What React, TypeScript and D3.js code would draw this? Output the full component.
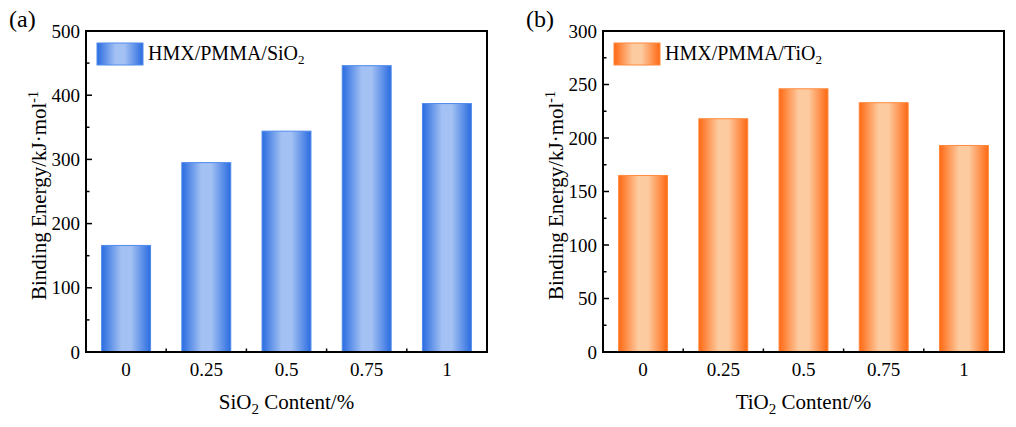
import React from "react";
import * as d3 from "d3";

const categories = ["0", "0.25", "0.5", "0.75", "1"];
const sio2Values = [166, 295, 344, 446, 387];
const tio2Values = [165, 218, 246, 233, 193];
const sio2Ticks = [0, 100, 200, 300, 400, 500];
const tio2Ticks = [0, 50, 100, 150, 200, 250, 300];

const FONT = "'Liberation Serif', 'Times New Roman', serif";

type PanelProps = {
  id: string;
  tag: string;
  left: number;
  values: number[];
  ticks: number[];
  yMax: number;
  oxide: string; // "Si" or "Ti"
  edge: string;
  light: string;
  stroke: string;
};

function Panel({ id, tag, left, values, ticks, yMax, oxide, edge, light, stroke }: PanelProps) {
  const top = 31;
  const bottom = 352;
  const width = 401;
  const right = left + width;

  const x = d3
    .scaleBand<string>()
    .domain(categories)
    .range([left, right])
    .paddingInner(0.39)
    .paddingOuter(0.195);
  const y = d3.scaleLinear().domain([0, yMax]).range([bottom, top]);

  const step = ticks[1] - ticks[0];
  const minor = d3.range(step / 2, yMax, step);
  const boundaries = categories.slice(1).map((c) => (x(c) as number) - (x.step() - x.bandwidth()) / 2);

  const gradId = `grad-${id}`;
  const midY = (top + bottom) / 2 + 4;

  return (
    <g>
      <defs>
        <linearGradient id={gradId} x1="0" x2="1" y1="0" y2="0">
          <stop offset="0" stopColor={edge} />
          <stop offset="0.4" stopColor={light} />
          <stop offset="0.6" stopColor={light} />
          <stop offset="1" stopColor={edge} />
        </linearGradient>
      </defs>

      {/* panel tag */}
      <text x={left - 77} y={27} fontFamily={FONT} fontSize={24} fill="#000">
        {tag}
      </text>

      {/* y ticks (inward) */}
      {ticks.map((t) => (
        <g key={`yt-${t}`}>
          <line x1={left} x2={left + 6} y1={y(t)} y2={y(t)} stroke="#000" strokeWidth={1.5} />
          <text x={left - 6} y={y(t)} dy="0.35em" textAnchor="end" fontFamily={FONT} fontSize={19} fill="#000">
            {t}
          </text>
        </g>
      ))}
      {minor.map((t) => (
        <line key={`ym-${t}`} x1={left} x2={left + 3.5} y1={y(t)} y2={y(t)} stroke="#000" strokeWidth={1.5} />
      ))}

      {/* x ticks (inward) */}
      {boundaries.map((bx, i) => (
        <line key={`xb-${i}`} x1={bx} x2={bx} y1={bottom} y2={bottom - 3.5} stroke="#000" strokeWidth={1.5} />
      ))}

      {/* bars */}
      {values.map((v, i) => {
        const c = categories[i];
        return (
          <rect
            key={`bar-${c}`}
            x={x(c) as number}
            y={y(v)}
            width={x.bandwidth()}
            height={bottom - y(v)}
            fill={`url(#${gradId})`}
            stroke={stroke}
            strokeWidth={1}
          />
        );
      })}

      {/* x tick labels */}
      {categories.map((c) => (
        <text
          key={`xl-${c}`}
          x={(x(c) as number) + x.bandwidth() / 2}
          y={376}
          textAnchor="middle"
          fontFamily={FONT}
          fontSize={19}
          fill="#000"
        >
          {c}
        </text>
      ))}

      {/* frame */}
      <rect x={left} y={top} width={width} height={bottom - top} fill="none" stroke="#000" strokeWidth={2} />

      {/* legend */}
      <rect x={left + 11} y={43} width={46} height={22} fill={`url(#${gradId})`} stroke={stroke} strokeWidth={1} />
      <text x={left + 62} y={60} fontFamily={FONT} fontSize={20} fill="#000">
        {`HMX/PMMA/${oxide}O`}
        <tspan dy={4} fontSize={13}>2</tspan>
      </text>

      {/* x axis title */}
      <text x={(left + right) / 2} y={409} textAnchor="middle" fontFamily={FONT} fontSize={21} fill="#000">
        {`${oxide}O`}
        <tspan dy={5} fontSize={15}>2</tspan>
        <tspan dy={-5}>{" Content/%"}</tspan>
      </text>

      {/* y axis title */}
      <text
        transform={`translate(${left - 40},${midY}) rotate(-90)`}
        textAnchor="middle"
        fontFamily={FONT}
        fontSize={21}
        fill="#000"
      >
        {"Binding Energy/kJ\u00b7mol"}
        <tspan dy={-8} fontSize={14}>-1</tspan>
      </text>
    </g>
  );
}

export default function App() {
  return (
    <svg width={1016} height={427} style={{ display: "block", margin: "-8px 0 0 -8px" }}>
      <rect width={1016} height={427} fill="#fff" />
      <Panel
        id="a"
        tag="(a)"
        left={86}
        values={sio2Values}
        ticks={sio2Ticks}
        yMax={500}
        oxide="Si"
        edge="#2a6ce0"
        light="#a3c1f3"
        stroke="#4f8bec"
      />
      <Panel
        id="b"
        tag="(b)"
        left={603}
        values={tio2Values}
        ticks={tio2Ticks}
        yMax={300}
        oxide="Ti"
        edge="#ff6812"
        light="#fdcba0"
        stroke="#ff8a3d"
      />
    </svg>
  );
}
